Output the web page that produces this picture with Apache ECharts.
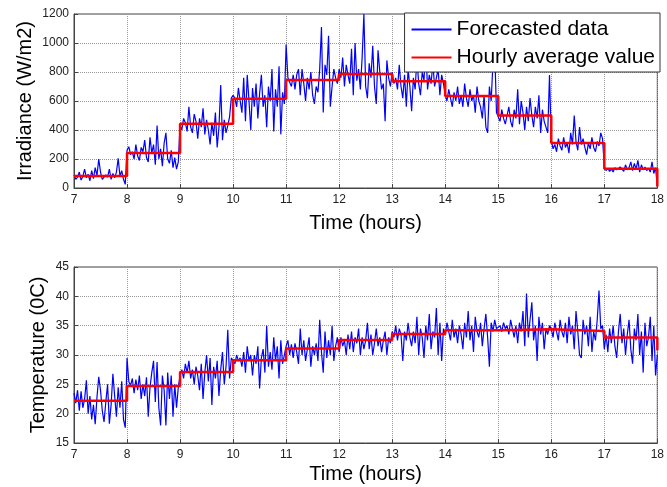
<!DOCTYPE html>
<html>
<head>
<meta charset="utf-8">
<style>
  html, body { margin: 0; padding: 0; background: #fff; }
  #main { width: 667px; height: 487px; }
</style>
<script src="https://cdn.jsdelivr.net/npm/echarts@6/dist/echarts.min.js"></script>
</head>
<body>
<div id="main"></div>
<script>
// samples every 2 minutes, 30 per hour, from 7h to 18h
var hours = [7, 8, 9, 10, 11, 12, 13, 14, 15, 16, 17];
var stepsPerHour = 30;

var irradiance = [
    90, 60, 75, 110, 55, 80, 130, 70, 95, 50, 120, 65, 140, 85, 200, 110, 60, 50, 90, 75, 130, 60, 100, 70, 110, 205, 80, 120, 60, 25,
    260, 285, 230, 250, 200, 300, 220, 190, 280, 250, 330, 210, 180, 350, 240, 300, 160, 430, 200, 270, 150, 310, 380, 200, 170, 260, 140, 210, 130, 180,
    430, 400, 480, 450, 390, 560, 420, 380, 510, 460, 340, 480, 420, 550, 370, 470, 400, 300, 450, 360, 520, 280, 420, 710, 330, 470, 380, 430, 490, 620,
    640, 620, 560, 690, 600, 520, 760, 460, 780, 600, 400, 690, 560, 720, 480, 650, 780, 560, 640, 420, 700, 600, 820, 390, 680, 560, 840, 370, 660, 580,
    990, 760, 760, 700, 780, 680, 780, 820, 640, 820, 720, 600, 760, 680, 800, 640, 580, 700, 660, 820, 1110, 520, 850, 780, 1050, 560, 700, 820, 760, 720,
    820, 760, 900, 700, 850, 780, 720, 960, 640, 1000, 740, 820, 680, 900, 1200, 700, 620, 860, 760, 980, 700, 580, 950, 800, 680, 720, 460, 880, 760, 700,
    800, 720, 760, 680, 850, 700, 620, 780, 560, 820, 700, 530, 760, 680, 900, 720, 640, 800, 740, 1000, 680, 780, 720, 860, 700, 760, 820, 640, 780, 720,
    640, 600, 680, 620, 560, 660, 600, 700, 580, 640, 560, 720, 620, 560, 680, 600, 640, 520, 700, 600, 560, 480, 640, 420, 380, 700, 600, 860, 960, 520,
    520, 460, 540, 480, 440, 500, 560, 460, 420, 540, 480, 680, 440, 600, 520, 400, 560, 460, 620, 500, 420, 560, 480, 640, 380, 540, 460, 420, 380, 780,
    330, 270, 300, 250, 340, 290, 260, 350, 280, 310, 240, 380, 300, 500, 320, 260, 420, 300, 340, 280, 230, 310, 270, 350, 280, 250, 320, 290, 380, 340,
    150, 120, 135, 115, 130, 110, 140, 125, 120, 145, 130, 115, 160, 125, 140, 180, 120, 170, 130, 190, 110, 160, 125, 145, 120, 135, 110, 180, 100, 140,
    10
];

var temperature = [
    23.5, 21.8, 24.0, 20.5, 23.8, 21.0, 22.5, 25.7, 20.0, 23.0, 19.0, 21.5, 18.2, 22.8, 26.3, 24.0, 20.5, 18.6, 22.0, 25.0, 18.3, 21.5, 26.8, 23.0, 19.5, 24.5, 21.0, 25.5, 19.0, 17.6,
    29.5, 25.5, 24.8, 26.0, 23.5, 25.8, 24.0, 26.5, 22.5, 25.0, 23.0, 26.2, 19.5, 24.5, 27.0, 29.0, 22.0, 28.8, 21.0, 18.0, 26.5, 24.0, 18.0, 27.0, 22.5, 26.5, 19.5, 25.0, 21.0, 24.5,
    26.5, 27.5, 26.0, 28.5, 27.0, 29.0, 26.0, 27.5, 25.0, 28.0, 26.5, 24.0, 28.5, 22.5, 27.0, 30.0, 25.5, 29.5, 21.5, 28.0, 26.0, 29.0, 23.0, 27.5, 30.5, 25.0, 28.0, 34.3, 26.0, 29.5,
    29.5, 28.5, 30.0, 29.0, 29.5, 28.0, 30.5, 27.0, 31.5, 29.0, 30.0, 26.5, 30.0, 28.5, 31.5, 24.3, 29.5, 31.0, 27.0, 35.0, 28.0, 30.5, 27.5, 33.0, 29.0, 31.5, 26.0, 32.5, 28.5, 30.0,
    31.5, 32.5, 30.0, 31.8, 29.5, 32.0, 30.5, 28.5, 34.5, 30.0, 32.5, 29.0, 31.0, 33.0, 28.0, 31.5, 30.0, 32.0, 29.0, 36.0, 30.5, 27.0, 34.0, 29.5, 32.5, 30.0, 35.0, 29.0, 31.5, 33.0,
    30.5, 33.0, 31.5, 32.5, 30.0, 33.5, 31.0, 34.0, 30.5, 33.0, 32.0, 34.5, 30.0, 33.0, 31.0, 32.5, 35.5, 31.0, 33.5, 30.0, 32.0, 34.5, 31.5, 33.0, 30.5, 32.5, 34.0, 30.0, 33.0, 32.0,
    34.0, 33.0, 35.0, 32.5, 34.5, 33.5, 29.0, 34.0, 32.5, 35.5, 33.0, 31.5, 34.0, 32.0, 36.5, 30.0, 34.5, 33.0, 29.5, 35.0, 32.5, 37.0, 31.0, 34.0, 33.0, 38.0, 30.0, 35.5, 29.0, 34.5,
    33.5, 35.5, 34.0, 32.5, 36.0, 33.0, 34.5, 32.0, 35.0, 33.5, 31.0, 35.5, 33.0, 37.5, 32.5, 35.0, 30.5, 36.5, 34.0, 33.0, 35.5, 31.5, 34.5, 37.0, 33.0, 28.0, 35.5, 34.0, 36.0, 34.5,
    34.5, 35.0, 34.0, 35.5, 34.5, 35.0, 33.5, 36.0, 34.5, 33.0, 35.0, 32.0, 35.5, 34.0, 37.5, 31.5, 40.5, 33.0, 36.0, 39.0, 32.5, 35.0, 29.0, 36.5, 33.5, 35.5, 31.0, 34.5, 33.5, 35.0,
    34.5, 33.0, 35.5, 34.0, 32.5, 36.0, 34.0, 33.0, 35.5, 32.0, 36.5, 33.5, 35.0, 31.0, 37.5, 34.0, 30.0, 29.5, 36.0, 33.5, 35.0, 31.5, 36.5, 30.5, 34.0, 32.5, 36.0, 41.0, 34.5, 35.0,
    31.0, 33.5, 30.5, 34.5, 32.0, 35.0, 31.5, 29.5, 34.0, 37.0, 32.0, 34.5, 30.0, 33.5, 36.0, 31.0, 28.5, 34.5, 32.5, 37.0, 30.0, 34.0, 27.0, 35.5, 31.5, 33.0, 36.5, 29.0, 35.0, 26.5,
    30
];

// hourly averages (red steps) and value at the end point 18h
var irrAvg = [82, 241, 443, 615, 745, 787, 736, 635, 500, 310, 133];
var irrEnd = 10;
var tempAvg = [22.2, 24.7, 27.1, 29.1, 31.1, 32.55, 33.6, 34.2, 34.4, 34.1, 33.0];
var tempEnd = 30.8;

function toPairs(values) {
    return values.map(function (v, i) { return [7 + i / stepsPerHour, v]; });
}
function toSteps(avg, endVal) {
    var out = [];
    avg.forEach(function (v, i) {
        out.push([hours[i], v]);
        out.push([hours[i] + 1, v]);
    });
    out.push([18, endVal]);
    return out;
}

var chartDom = document.getElementById('main');
var myChart = echarts.init(chartDom);
var option;

var font = 'Liberation Sans, Arial, sans-serif';

function xAxisFor(gridIndex, gap) {
    return {
        type: 'value', gridIndex: gridIndex,
        min: 7, max: 18, interval: 1,
        name: 'Time (hours)', nameLocation: 'middle', nameGap: gap,
        nameTextStyle: { fontSize: 20, color: '#000', fontFamily: font },
        axisLine: { show: true, onZero: false, lineStyle: { color: '#444' } },
        axisTick: { inside: true, length: 4, lineStyle: { color: '#444' } },
        axisLabel: { fontSize: 12, color: '#222', fontFamily: font, margin: 6 },
        splitLine: { show: true, lineStyle: { type: 'dotted', color: '#999' } }
    };
}
function yAxisFor(gridIndex, name, min, max, interval, gap) {
    return {
        type: 'value', gridIndex: gridIndex,
        min: min, max: max, interval: interval,
        name: name, nameLocation: 'middle', nameGap: gap,
        nameMoveOverlap: false,
        nameTextStyle: { fontSize: 20, color: '#000', fontFamily: font },
        axisLine: { show: true, lineStyle: { color: '#444' } },
        axisTick: { show: true, inside: true, length: 4, lineStyle: { color: '#444' } },
        axisLabel: {
            fontSize: 12, color: '#222', fontFamily: font, margin: 5,
            formatter: function (v) { return String(v); }
        },
        splitLine: { show: true, lineStyle: { type: 'dotted', color: '#999' } }
    };
}

option = {
    animation: false,
    backgroundColor: '#fff',
    grid: [
        { left: 74, right: 8, top: 14, height: 174, show: true, borderColor: '#444', borderWidth: 1 },
        { left: 74, right: 8, top: 267, height: 176, show: true, borderColor: '#444', borderWidth: 1 }
    ],
    legend: {
        data: ['Forecasted data', 'Hourly average value'],
        orient: 'vertical',
        right: 7, top: 13,
        padding: [6, 5, 4, 6],
        itemGap: 7,
        itemWidth: 40,
        itemStyle: { opacity: 0 },
        backgroundColor: '#fff',
        borderColor: '#333',
        borderWidth: 1,
        borderRadius: 0,
        textStyle: { fontSize: 21, color: '#000', fontFamily: font }
    },
    xAxis: [xAxisFor(0, 25), xAxisFor(1, 21)],
    yAxis: [
        yAxisFor(0, 'Irradiance (W/m2)', 0, 1200, 200, 39),
        yAxisFor(1, 'Temperature (0C)', 15, 45, 5, 26)
    ],
    series: [
        {
            name: 'Forecasted data', type: 'line', xAxisIndex: 0, yAxisIndex: 0,
            data: toPairs(irradiance), symbol: 'none', color: '#0000ff',
            lineStyle: { width: 1.2, color: '#0000ff' }, z: 2
        },
        {
            name: 'Hourly average value', type: 'line', xAxisIndex: 0, yAxisIndex: 0,
            data: toSteps(irrAvg, irrEnd), symbol: 'none', color: '#ff0000',
            lineStyle: { width: 2.5, color: '#ff0000' }, z: 3
        },
        {
            name: 'Forecasted data', type: 'line', xAxisIndex: 1, yAxisIndex: 1,
            data: toPairs(temperature), symbol: 'none', color: '#0000ff',
            lineStyle: { width: 1.2, color: '#0000ff' }, z: 2
        },
        {
            name: 'Hourly average value', type: 'line', xAxisIndex: 1, yAxisIndex: 1,
            data: toSteps(tempAvg, tempEnd), symbol: 'none', color: '#ff0000',
            lineStyle: { width: 2.5, color: '#ff0000' }, z: 3
        }
    ]
};

option && myChart.setOption(option);
</script>
</body>
</html>
